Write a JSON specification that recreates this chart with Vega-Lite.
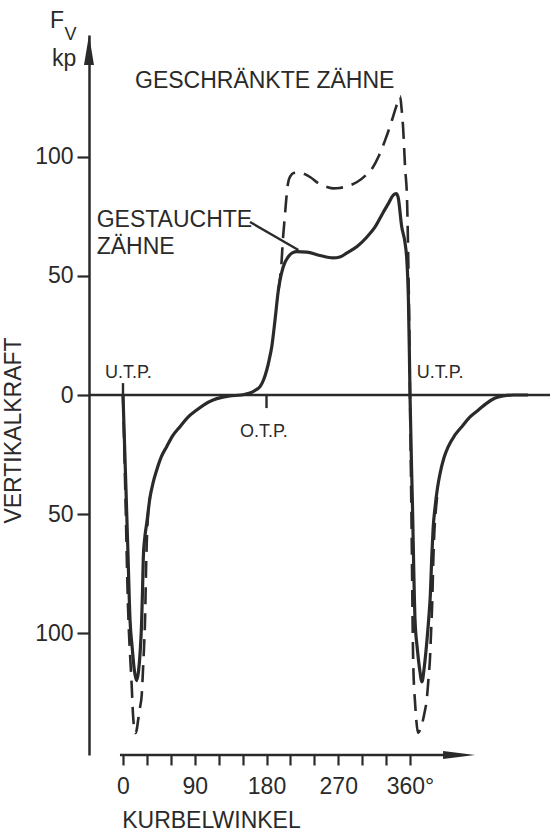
{
  "$schema": "https://vega.github.io/schema/vega-lite/v6.json",
  "width": 461,
  "height": 720,
  "autosize": {"type": "none"},
  "padding": {"left": 89, "top": 35, "right": 0, "bottom": 80},
  "background": "white",
  "config": {"font": "Liberation Sans", "view": {"stroke": null}},
  "datasets": {
    "gestaucht": [
      {"a":0,"v":0},{"a":3,"v":-32},{"a":6,"v":-64},{"a":8.8,"v":-94.5},{"a":11.5,"v":-106},{"a":14,"v":-115},{"a":17,"v":-120},{"a":19.5,"v":-116},{"a":21.5,"v":-108},{"a":23.3,"v":-96},{"a":24.5,"v":-82},{"a":25.5,"v":-68},{"a":27.3,"v":-60},{"a":29.7,"v":-54},{"a":33.9,"v":-43},{"a":38,"v":-36.5},{"a":42.3,"v":-31.5},{"a":48,"v":-26},{"a":54.8,"v":-21.7},{"a":62,"v":-17.3},{"a":71.5,"v":-13.3},{"a":81,"v":-9.5},{"a":92.5,"v":-6.3},{"a":102,"v":-4},{"a":113,"v":-2.1},{"a":124,"v":-1},{"a":134,"v":-0.4},{"a":148,"v":0},{"a":159.3,"v":0.8},{"a":166,"v":2},{"a":171.9,"v":3.5},{"a":176.5,"v":6.5},{"a":180.3,"v":10.5},{"a":183.5,"v":15},{"a":186.6,"v":20.3},{"a":190.7,"v":31.5},{"a":194.9,"v":44.1},{"a":197,"v":48.3},{"a":201,"v":53.9},{"a":207.4,"v":58.1},{"a":213,"v":59.8},{"a":218,"v":60.2},{"a":230.5,"v":60},{"a":247,"v":58.6},{"a":263.5,"v":57.6},{"a":272,"v":58},{"a":281,"v":59.7},{"a":294,"v":62.5},{"a":306,"v":66.4},{"a":316,"v":70.5},{"a":326,"v":76.5},{"a":333,"v":80.5},{"a":339,"v":84},{"a":342.5,"v":84.6},{"a":345,"v":83.2},{"a":349.6,"v":70.7},{"a":353.8,"v":63.8},{"a":356,"v":56.7},{"a":358,"v":40},{"a":359.2,"v":18},{"a":360,"v":0},{"a":363,"v":-45},{"a":366.3,"v":-94.5},{"a":369,"v":-106},{"a":372,"v":-115},{"a":375,"v":-120.5},{"a":378,"v":-114},{"a":381,"v":-104},{"a":383.5,"v":-94},{"a":385.5,"v":-84},{"a":387.3,"v":-68},{"a":389,"v":-56},{"a":391.5,"v":-47},{"a":394.5,"v":-39},{"a":397.7,"v":-33},{"a":402.5,"v":-26.5},{"a":408,"v":-21.7},{"a":416,"v":-17},{"a":425,"v":-13.3},{"a":435,"v":-9.3},{"a":445.8,"v":-6.3},{"a":456,"v":-3.5},{"a":466.8,"v":-1.3},{"a":477,"v":-0.4},{"a":490,"v":0},{"a":508,"v":0}
    ],
    "geschraenkt": [
      {"seg":1,"a":0,"v":0},{"seg":1,"a":3,"v":-42},{"seg":1,"a":6.3,"v":-89},{"seg":1,"a":7.5,"v":-100},{"seg":1,"a":9,"v":-110},{"seg":1,"a":10.9,"v":-122},{"seg":1,"a":12.5,"v":-134},{"seg":1,"a":14,"v":-140},{"seg":1,"a":15.5,"v":-142},{"seg":1,"a":17,"v":-141},{"seg":1,"a":18.8,"v":-137},{"seg":1,"a":21.5,"v":-131},{"seg":1,"a":23.5,"v":-126},{"seg":1,"a":25,"v":-116},{"seg":1,"a":26.5,"v":-105},{"seg":1,"a":27.6,"v":-95},{"seg":1,"a":28.2,"v":-86},{"seg":1,"a":28.8,"v":-75},{"seg":1,"a":29.8,"v":-62},{"seg":1,"a":31.5,"v":-50},{"seg":1,"a":34,"v":-43},
      {"seg":2,"a":194.9,"v":44.1},{"seg":2,"a":197,"v":49},{"seg":2,"a":198.7,"v":55},{"seg":2,"a":200.5,"v":65},{"seg":2,"a":203,"v":75},{"seg":2,"a":205,"v":83},{"seg":2,"a":207,"v":89},{"seg":2,"a":210,"v":92},{"seg":2,"a":214,"v":93.3},{"seg":2,"a":222,"v":93.5},{"seg":2,"a":228,"v":92.8},{"seg":2,"a":234.6,"v":91.6},{"seg":2,"a":245,"v":89},{"seg":2,"a":256,"v":87.4},{"seg":2,"a":264,"v":86.8},{"seg":2,"a":272,"v":87},{"seg":2,"a":284,"v":88},{"seg":2,"a":293.6,"v":89.5},{"seg":2,"a":305,"v":92.5},{"seg":2,"a":313.7,"v":95.8},{"seg":2,"a":321,"v":100.5},{"seg":2,"a":328.7,"v":107},{"seg":2,"a":334,"v":112},{"seg":2,"a":338.8,"v":117},{"seg":2,"a":343,"v":121.5},{"seg":2,"a":347.6,"v":125.5},{"seg":2,"a":349.5,"v":120},{"seg":2,"a":351.3,"v":112.6},{"seg":2,"a":353.8,"v":95.8},{"seg":2,"a":356.3,"v":82},{"seg":2,"a":357.6,"v":61},{"seg":2,"a":359,"v":30},{"seg":2,"a":360,"v":0},{"seg":2,"a":362,"v":-56},{"seg":2,"a":364,"v":-112},{"seg":2,"a":366.5,"v":-130},{"seg":2,"a":368,"v":-137},{"seg":2,"a":370,"v":-142},{"seg":2,"a":373,"v":-140.5},{"seg":2,"a":376,"v":-137},{"seg":2,"a":378.5,"v":-133},{"seg":2,"a":381,"v":-128},{"seg":2,"a":383,"v":-120},{"seg":2,"a":385,"v":-111},{"seg":2,"a":386.5,"v":-99},{"seg":2,"a":388,"v":-86},{"seg":2,"a":389,"v":-72},{"seg":2,"a":390.5,"v":-58},{"seg":2,"a":392.5,"v":-48},{"seg":2,"a":395,"v":-40}
    ],
    "strokes": [
      {"what":"zero line","a":-42.65,"v":0,"a2":535.6,"v2":0},
      {"what":"U.T.P. tick","a":0,"v":0,"a2":0,"v2":5},
      {"what":"O.T.P. tick","a":180,"v":0,"a2":180,"v2":-5.5},
      {"what":"leader","a":159.3,"v":72.7,"a2":220,"v2":60.9},
      {"what":"angle axis","a":-3.8,"v":-151.26,"a2":421.5,"v2":-151.26}
    ],
    "arrows": [
      {"dir":"up","a":-42.65,"v":144.96},
      {"dir":"right","a":421.5,"v":-151.26}
    ],
    "bigTexts": [
      {"txt":"F","a":-91.6,"v":154.2},
      {"txt":"kp","a":-89.1,"v":138.2},
      {"txt":"GESCHRÄNKTE ZÄHNE","a":15.05,"v":129.0},
      {"txt":"GESTAUCHTE","a":-33.0,"v":70.5},
      {"txt":"ZÄHNE","a":-33.0,"v":59.2}
    ],
    "smallTexts": [
      {"txt":"V","a":-73.5,"v":149.2},
      {"txt":"U.T.P.","a":-22.6,"v":7.1},
      {"txt":"U.T.P.","a":368.4,"v":7.1},
      {"txt":"O.T.P.","a":146.8,"v":-17.6}
    ]
  },
  "encoding": {
    "x": {
      "field": "a", "type": "quantitative",
      "scale": {"domain": [-42.65, 535.6], "nice": false, "zero": false},
      "axis": {
        "values": [0,30,60,90,120,150,180,210,240,270,300,330,360],
        "domain": false, "grid": false,
        "tickSize": 10, "tickWidth": 2.2, "tickColor": "#2a2a2a",
        "labelFontSize": 23, "labelColor": "#2a2a2a", "labelPadding": 10, "labelFont": "Liberation Sans",
        "labelFlush": false, "labelOverlap": false,
        "labelExpr": "datum.value % 90 == 0 ? (datum.value == 360 ? '360°' : datum.label) : ''",
        "title": "KURBELWINKEL", "titleFontSize": 23, "titleFontWeight": "normal", "titleColor": "#2a2a2a", "titleFont": "Liberation Sans",
        "titleX": 32.7, "titleY": 72, "titleAlign": "left", "titleBaseline": "alphabetic", "titleAngle": 0
      }
    },
    "y": {
      "field": "v", "type": "quantitative",
      "scale": {"domain": [-151.26, 151.26], "nice": false, "zero": false},
      "axis": {
        "values": [-100,-50,0,50,100],
        "domain": true, "domainWidth": 2.5, "domainColor": "#2a2a2a", "grid": false,
        "tickSize": 12, "tickWidth": 2.2, "tickColor": "#2a2a2a",
        "labelFontSize": 23, "labelColor": "#2a2a2a", "labelPadding": 4, "labelFont": "Liberation Sans",
        "labelExpr": "abs(datum.value) + ''",
        "title": "VERTIKALKRAFT", "titleFontSize": 23, "titleFontWeight": "normal", "titleColor": "#2a2a2a", "titleFont": "Liberation Sans",
        "titleAngle": 270, "titleX": -76, "titleY": 395, "titleAlign": "center", "titleBaseline": "middle"
      }
    }
  },
  "layer": [
    {
      "data": {"name": "strokes"},
      "mark": {"type": "rule", "color": "#2a2a2a", "strokeWidth": 2.4},
      "encoding": {
        "x2": {"field": "a2"},
        "y2": {"field": "v2"}
      }
    },
    {
      "data": {"name": "gestaucht"},
      "mark": {"type": "line", "interpolate": "monotone", "color": "#2a2a2a", "strokeWidth": 3.2}
    },
    {
      "data": {"name": "geschraenkt"},
      "mark": {"type": "line", "interpolate": "monotone", "color": "#2a2a2a", "strokeWidth": 2.6, "strokeDash": [17, 9]},
      "encoding": {
        "detail": {"field": "seg"}
      }
    },
    {
      "data": {"name": "arrows"},
      "transform": [{"filter": "datum.dir == 'up'"}],
      "mark": {"type": "point", "filled": true, "opacity": 1, "color": "#2a2a2a", "shape": "M0,-1L0.333,1L-0.333,1Z", "size": 900}
    },
    {
      "data": {"name": "arrows"},
      "transform": [{"filter": "datum.dir == 'right'"}],
      "mark": {"type": "point", "filled": true, "opacity": 1, "color": "#2a2a2a", "shape": "M1,0L-1,-0.25L-1,0.25Z", "size": 1024}
    },
    {
      "data": {"name": "bigTexts"},
      "mark": {"type": "text", "align": "left", "baseline": "alphabetic", "fontSize": 23, "color": "#2a2a2a", "font": "Liberation Sans"},
      "encoding": {
        "text": {"field": "txt"}
      }
    },
    {
      "data": {"name": "smallTexts"},
      "mark": {"type": "text", "align": "left", "baseline": "alphabetic", "fontSize": 18, "color": "#2a2a2a", "font": "Liberation Sans"},
      "encoding": {
        "text": {"field": "txt"}
      }
    }
  ]
}
